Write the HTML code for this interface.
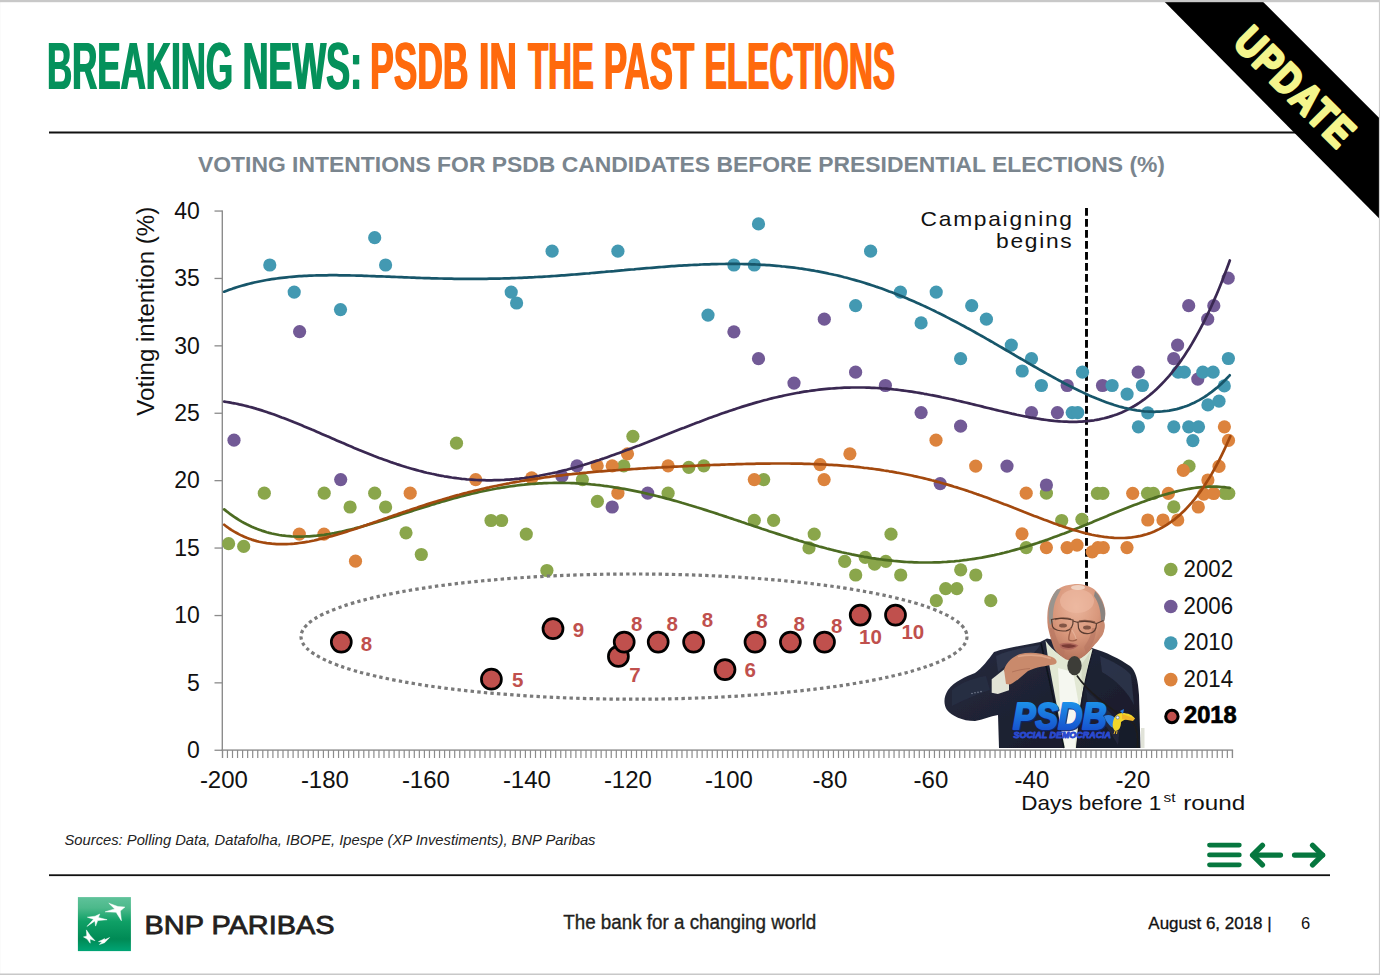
<!DOCTYPE html>
<html><head><meta charset="utf-8"><title>PSDB in the past elections</title>
<style>
html,body{margin:0;padding:0;background:#fff;}
body{width:1380px;height:975px;overflow:hidden;position:relative;font-family:"Liberation Sans",sans-serif;}
svg{position:absolute;left:0;top:0;display:block;}
</style></head><body>
<svg width="1380" height="975" viewBox="0 0 1380 975" font-family="Liberation Sans, sans-serif">
<defs>
<linearGradient id="bnpg" x1="0" y1="0" x2="0" y2="1">
<stop offset="0" stop-color="#5fc29a"/><stop offset="0.2" stop-color="#4cb98b"/><stop offset="0.45" stop-color="#0fa066"/>
<stop offset="0.78" stop-color="#008a55"/><stop offset="1" stop-color="#00a575"/></linearGradient>
<linearGradient id="psdbg" x1="0" y1="0" x2="0" y2="1">
<stop offset="0" stop-color="#1ea0f0"/><stop offset="1" stop-color="#1545c8"/></linearGradient>
<radialGradient id="skin" cx="0.5" cy="0.35" r="0.6"><stop offset="0" stop-color="#e3a98c"/><stop offset="1" stop-color="#b97a60"/></radialGradient>
<filter id="blur1"><feGaussianBlur stdDeviation="0.6"/></filter>
<filter id="blur2"><feGaussianBlur stdDeviation="1.2"/></filter>
</defs>
<rect x="0" y="0" width="1380" height="975" fill="#fff"/>

<g font-size="67" font-weight="bold"><text x="46.40" y="88.5" fill="#05915B" textLength="186.10" lengthAdjust="spacingAndGlyphs">BREAKING</text><text x="47.60" y="88.5" fill="#05915B" textLength="186.10" lengthAdjust="spacingAndGlyphs">BREAKING</text><text x="242.00" y="88.5" fill="#05915B" textLength="119.40" lengthAdjust="spacingAndGlyphs">NEWS:</text><text x="243.20" y="88.5" fill="#05915B" textLength="119.40" lengthAdjust="spacingAndGlyphs">NEWS:</text><text x="369.60" y="88.5" fill="#FF6A0D" textLength="98.10" lengthAdjust="spacingAndGlyphs">PSDB</text><text x="370.80" y="88.5" fill="#FF6A0D" textLength="98.10" lengthAdjust="spacingAndGlyphs">PSDB</text><text x="478.20" y="88.5" fill="#FF6A0D" textLength="38.20" lengthAdjust="spacingAndGlyphs">IN</text><text x="479.40" y="88.5" fill="#FF6A0D" textLength="38.20" lengthAdjust="spacingAndGlyphs">IN</text><text x="527.50" y="88.5" fill="#FF6A0D" textLength="65.80" lengthAdjust="spacingAndGlyphs">THE</text><text x="528.70" y="88.5" fill="#FF6A0D" textLength="65.80" lengthAdjust="spacingAndGlyphs">THE</text><text x="603.20" y="88.5" fill="#FF6A0D" textLength="90.30" lengthAdjust="spacingAndGlyphs">PAST</text><text x="604.40" y="88.5" fill="#FF6A0D" textLength="90.30" lengthAdjust="spacingAndGlyphs">PAST</text><text x="704.00" y="88.5" fill="#FF6A0D" textLength="190.50" lengthAdjust="spacingAndGlyphs">ELECTIONS</text><text x="705.20" y="88.5" fill="#FF6A0D" textLength="190.50" lengthAdjust="spacingAndGlyphs">ELECTIONS</text></g>
<rect x="49" y="131.5" width="1250" height="2" fill="#111"/>
<text x="198" y="172.4" font-size="21.5" font-weight="bold" fill="#7A858E" textLength="967" lengthAdjust="spacingAndGlyphs">VOTING INTENTIONS FOR PSDB CANDIDATES BEFORE PRESIDENTIAL ELECTIONS (%)</text>
<g fill="#8c8c8c">
<rect x="221.6" y="210.5" width="1.4" height="540.5"/>
<rect x="221.6" y="749.4" width="1011.5" height="1.4"/>
<rect x="214.5" y="749.6" width="8" height="1.3"/>
<rect x="214.5" y="682.2" width="8" height="1.3"/>
<rect x="214.5" y="614.9" width="8" height="1.3"/>
<rect x="214.5" y="547.4" width="8" height="1.3"/>
<rect x="214.5" y="480.0" width="8" height="1.3"/>
<rect x="214.5" y="412.6" width="8" height="1.3"/>
<rect x="214.5" y="345.2" width="8" height="1.3"/>
<rect x="214.5" y="277.8" width="8" height="1.3"/>
<rect x="214.5" y="210.4" width="8" height="1.3"/>
<rect x="221.80" y="750" width="1.2" height="8"/>
<rect x="226.85" y="750" width="1.2" height="8"/>
<rect x="231.90" y="750" width="1.2" height="8"/>
<rect x="236.95" y="750" width="1.2" height="8"/>
<rect x="242.00" y="750" width="1.2" height="8"/>
<rect x="247.05" y="750" width="1.2" height="8"/>
<rect x="252.10" y="750" width="1.2" height="8"/>
<rect x="257.15" y="750" width="1.2" height="8"/>
<rect x="262.20" y="750" width="1.2" height="8"/>
<rect x="267.25" y="750" width="1.2" height="8"/>
<rect x="272.30" y="750" width="1.2" height="8"/>
<rect x="277.35" y="750" width="1.2" height="8"/>
<rect x="282.40" y="750" width="1.2" height="8"/>
<rect x="287.45" y="750" width="1.2" height="8"/>
<rect x="292.50" y="750" width="1.2" height="8"/>
<rect x="297.55" y="750" width="1.2" height="8"/>
<rect x="302.60" y="750" width="1.2" height="8"/>
<rect x="307.65" y="750" width="1.2" height="8"/>
<rect x="312.70" y="750" width="1.2" height="8"/>
<rect x="317.75" y="750" width="1.2" height="8"/>
<rect x="322.80" y="750" width="1.2" height="8"/>
<rect x="327.85" y="750" width="1.2" height="8"/>
<rect x="332.90" y="750" width="1.2" height="8"/>
<rect x="337.95" y="750" width="1.2" height="8"/>
<rect x="343.00" y="750" width="1.2" height="8"/>
<rect x="348.05" y="750" width="1.2" height="8"/>
<rect x="353.10" y="750" width="1.2" height="8"/>
<rect x="358.15" y="750" width="1.2" height="8"/>
<rect x="363.20" y="750" width="1.2" height="8"/>
<rect x="368.25" y="750" width="1.2" height="8"/>
<rect x="373.30" y="750" width="1.2" height="8"/>
<rect x="378.35" y="750" width="1.2" height="8"/>
<rect x="383.40" y="750" width="1.2" height="8"/>
<rect x="388.45" y="750" width="1.2" height="8"/>
<rect x="393.50" y="750" width="1.2" height="8"/>
<rect x="398.55" y="750" width="1.2" height="8"/>
<rect x="403.60" y="750" width="1.2" height="8"/>
<rect x="408.65" y="750" width="1.2" height="8"/>
<rect x="413.70" y="750" width="1.2" height="8"/>
<rect x="418.75" y="750" width="1.2" height="8"/>
<rect x="423.80" y="750" width="1.2" height="8"/>
<rect x="428.85" y="750" width="1.2" height="8"/>
<rect x="433.90" y="750" width="1.2" height="8"/>
<rect x="438.95" y="750" width="1.2" height="8"/>
<rect x="444.00" y="750" width="1.2" height="8"/>
<rect x="449.05" y="750" width="1.2" height="8"/>
<rect x="454.10" y="750" width="1.2" height="8"/>
<rect x="459.15" y="750" width="1.2" height="8"/>
<rect x="464.20" y="750" width="1.2" height="8"/>
<rect x="469.25" y="750" width="1.2" height="8"/>
<rect x="474.30" y="750" width="1.2" height="8"/>
<rect x="479.35" y="750" width="1.2" height="8"/>
<rect x="484.40" y="750" width="1.2" height="8"/>
<rect x="489.45" y="750" width="1.2" height="8"/>
<rect x="494.50" y="750" width="1.2" height="8"/>
<rect x="499.55" y="750" width="1.2" height="8"/>
<rect x="504.60" y="750" width="1.2" height="8"/>
<rect x="509.65" y="750" width="1.2" height="8"/>
<rect x="514.70" y="750" width="1.2" height="8"/>
<rect x="519.75" y="750" width="1.2" height="8"/>
<rect x="524.80" y="750" width="1.2" height="8"/>
<rect x="529.85" y="750" width="1.2" height="8"/>
<rect x="534.90" y="750" width="1.2" height="8"/>
<rect x="539.95" y="750" width="1.2" height="8"/>
<rect x="545.00" y="750" width="1.2" height="8"/>
<rect x="550.05" y="750" width="1.2" height="8"/>
<rect x="555.10" y="750" width="1.2" height="8"/>
<rect x="560.15" y="750" width="1.2" height="8"/>
<rect x="565.20" y="750" width="1.2" height="8"/>
<rect x="570.25" y="750" width="1.2" height="8"/>
<rect x="575.30" y="750" width="1.2" height="8"/>
<rect x="580.35" y="750" width="1.2" height="8"/>
<rect x="585.40" y="750" width="1.2" height="8"/>
<rect x="590.45" y="750" width="1.2" height="8"/>
<rect x="595.50" y="750" width="1.2" height="8"/>
<rect x="600.55" y="750" width="1.2" height="8"/>
<rect x="605.60" y="750" width="1.2" height="8"/>
<rect x="610.65" y="750" width="1.2" height="8"/>
<rect x="615.70" y="750" width="1.2" height="8"/>
<rect x="620.75" y="750" width="1.2" height="8"/>
<rect x="625.80" y="750" width="1.2" height="8"/>
<rect x="630.85" y="750" width="1.2" height="8"/>
<rect x="635.90" y="750" width="1.2" height="8"/>
<rect x="640.95" y="750" width="1.2" height="8"/>
<rect x="646.00" y="750" width="1.2" height="8"/>
<rect x="651.05" y="750" width="1.2" height="8"/>
<rect x="656.10" y="750" width="1.2" height="8"/>
<rect x="661.15" y="750" width="1.2" height="8"/>
<rect x="666.20" y="750" width="1.2" height="8"/>
<rect x="671.25" y="750" width="1.2" height="8"/>
<rect x="676.30" y="750" width="1.2" height="8"/>
<rect x="681.35" y="750" width="1.2" height="8"/>
<rect x="686.40" y="750" width="1.2" height="8"/>
<rect x="691.45" y="750" width="1.2" height="8"/>
<rect x="696.50" y="750" width="1.2" height="8"/>
<rect x="701.55" y="750" width="1.2" height="8"/>
<rect x="706.60" y="750" width="1.2" height="8"/>
<rect x="711.65" y="750" width="1.2" height="8"/>
<rect x="716.70" y="750" width="1.2" height="8"/>
<rect x="721.75" y="750" width="1.2" height="8"/>
<rect x="726.80" y="750" width="1.2" height="8"/>
<rect x="731.85" y="750" width="1.2" height="8"/>
<rect x="736.90" y="750" width="1.2" height="8"/>
<rect x="741.95" y="750" width="1.2" height="8"/>
<rect x="747.00" y="750" width="1.2" height="8"/>
<rect x="752.05" y="750" width="1.2" height="8"/>
<rect x="757.10" y="750" width="1.2" height="8"/>
<rect x="762.15" y="750" width="1.2" height="8"/>
<rect x="767.20" y="750" width="1.2" height="8"/>
<rect x="772.25" y="750" width="1.2" height="8"/>
<rect x="777.30" y="750" width="1.2" height="8"/>
<rect x="782.35" y="750" width="1.2" height="8"/>
<rect x="787.40" y="750" width="1.2" height="8"/>
<rect x="792.45" y="750" width="1.2" height="8"/>
<rect x="797.50" y="750" width="1.2" height="8"/>
<rect x="802.55" y="750" width="1.2" height="8"/>
<rect x="807.60" y="750" width="1.2" height="8"/>
<rect x="812.65" y="750" width="1.2" height="8"/>
<rect x="817.70" y="750" width="1.2" height="8"/>
<rect x="822.75" y="750" width="1.2" height="8"/>
<rect x="827.80" y="750" width="1.2" height="8"/>
<rect x="832.85" y="750" width="1.2" height="8"/>
<rect x="837.90" y="750" width="1.2" height="8"/>
<rect x="842.95" y="750" width="1.2" height="8"/>
<rect x="848.00" y="750" width="1.2" height="8"/>
<rect x="853.05" y="750" width="1.2" height="8"/>
<rect x="858.10" y="750" width="1.2" height="8"/>
<rect x="863.15" y="750" width="1.2" height="8"/>
<rect x="868.20" y="750" width="1.2" height="8"/>
<rect x="873.25" y="750" width="1.2" height="8"/>
<rect x="878.30" y="750" width="1.2" height="8"/>
<rect x="883.35" y="750" width="1.2" height="8"/>
<rect x="888.40" y="750" width="1.2" height="8"/>
<rect x="893.45" y="750" width="1.2" height="8"/>
<rect x="898.50" y="750" width="1.2" height="8"/>
<rect x="903.55" y="750" width="1.2" height="8"/>
<rect x="908.60" y="750" width="1.2" height="8"/>
<rect x="913.65" y="750" width="1.2" height="8"/>
<rect x="918.70" y="750" width="1.2" height="8"/>
<rect x="923.75" y="750" width="1.2" height="8"/>
<rect x="928.80" y="750" width="1.2" height="8"/>
<rect x="933.85" y="750" width="1.2" height="8"/>
<rect x="938.90" y="750" width="1.2" height="8"/>
<rect x="943.95" y="750" width="1.2" height="8"/>
<rect x="949.00" y="750" width="1.2" height="8"/>
<rect x="954.05" y="750" width="1.2" height="8"/>
<rect x="959.10" y="750" width="1.2" height="8"/>
<rect x="964.15" y="750" width="1.2" height="8"/>
<rect x="969.20" y="750" width="1.2" height="8"/>
<rect x="974.25" y="750" width="1.2" height="8"/>
<rect x="979.30" y="750" width="1.2" height="8"/>
<rect x="984.35" y="750" width="1.2" height="8"/>
<rect x="989.40" y="750" width="1.2" height="8"/>
<rect x="994.45" y="750" width="1.2" height="8"/>
<rect x="999.50" y="750" width="1.2" height="8"/>
<rect x="1004.55" y="750" width="1.2" height="8"/>
<rect x="1009.60" y="750" width="1.2" height="8"/>
<rect x="1014.65" y="750" width="1.2" height="8"/>
<rect x="1019.70" y="750" width="1.2" height="8"/>
<rect x="1024.75" y="750" width="1.2" height="8"/>
<rect x="1029.80" y="750" width="1.2" height="8"/>
<rect x="1034.85" y="750" width="1.2" height="8"/>
<rect x="1039.90" y="750" width="1.2" height="8"/>
<rect x="1044.95" y="750" width="1.2" height="8"/>
<rect x="1050.00" y="750" width="1.2" height="8"/>
<rect x="1055.05" y="750" width="1.2" height="8"/>
<rect x="1060.10" y="750" width="1.2" height="8"/>
<rect x="1065.15" y="750" width="1.2" height="8"/>
<rect x="1070.20" y="750" width="1.2" height="8"/>
<rect x="1075.25" y="750" width="1.2" height="8"/>
<rect x="1080.30" y="750" width="1.2" height="8"/>
<rect x="1085.35" y="750" width="1.2" height="8"/>
<rect x="1090.40" y="750" width="1.2" height="8"/>
<rect x="1095.45" y="750" width="1.2" height="8"/>
<rect x="1100.50" y="750" width="1.2" height="8"/>
<rect x="1105.55" y="750" width="1.2" height="8"/>
<rect x="1110.60" y="750" width="1.2" height="8"/>
<rect x="1115.65" y="750" width="1.2" height="8"/>
<rect x="1120.70" y="750" width="1.2" height="8"/>
<rect x="1125.75" y="750" width="1.2" height="8"/>
<rect x="1130.80" y="750" width="1.2" height="8"/>
<rect x="1135.85" y="750" width="1.2" height="8"/>
<rect x="1140.90" y="750" width="1.2" height="8"/>
<rect x="1145.95" y="750" width="1.2" height="8"/>
<rect x="1151.00" y="750" width="1.2" height="8"/>
<rect x="1156.05" y="750" width="1.2" height="8"/>
<rect x="1161.10" y="750" width="1.2" height="8"/>
<rect x="1166.15" y="750" width="1.2" height="8"/>
<rect x="1171.20" y="750" width="1.2" height="8"/>
<rect x="1176.25" y="750" width="1.2" height="8"/>
<rect x="1181.30" y="750" width="1.2" height="8"/>
<rect x="1186.35" y="750" width="1.2" height="8"/>
<rect x="1191.40" y="750" width="1.2" height="8"/>
<rect x="1196.45" y="750" width="1.2" height="8"/>
<rect x="1201.50" y="750" width="1.2" height="8"/>
<rect x="1206.55" y="750" width="1.2" height="8"/>
<rect x="1211.60" y="750" width="1.2" height="8"/>
<rect x="1216.65" y="750" width="1.2" height="8"/>
<rect x="1221.70" y="750" width="1.2" height="8"/>
<rect x="1226.75" y="750" width="1.2" height="8"/>
<rect x="1231.80" y="750" width="1.2" height="8"/>
<rect x="222" y="750" width="1.2" height="8"/>
<rect x="1231.9" y="750" width="1.2" height="8"/>
</g>
<g font-size="23" fill="#111" text-anchor="end">
<text x="199.8" y="757.9">0</text>
<text x="199.8" y="690.5">5</text>
<text x="199.8" y="623.1">10</text>
<text x="199.8" y="555.7">15</text>
<text x="199.8" y="488.3">20</text>
<text x="199.8" y="420.9">25</text>
<text x="199.8" y="353.5">30</text>
<text x="199.8" y="286.1">35</text>
<text x="199.8" y="218.7">40</text>
</g>
<g font-size="24" fill="#111" text-anchor="middle">
<text x="223.9" y="787.6">-200</text>
<text x="324.9" y="787.6">-180</text>
<text x="425.9" y="787.6">-160</text>
<text x="526.9" y="787.6">-140</text>
<text x="627.9" y="787.6">-120</text>
<text x="728.9" y="787.6">-100</text>
<text x="829.9" y="787.6">-80</text>
<text x="930.9" y="787.6">-60</text>
<text x="1031.9" y="787.6">-40</text>
<text x="1132.9" y="787.6">-20</text>
</g>
<text x="1021.2" y="810.2" font-size="21" fill="#111" textLength="140" lengthAdjust="spacingAndGlyphs">Days before 1</text>
<text x="1163.5" y="802" font-size="13.5" fill="#111" textLength="12" lengthAdjust="spacingAndGlyphs">st</text>
<text x="1183.3" y="810.2" font-size="21" fill="#111" textLength="62" lengthAdjust="spacingAndGlyphs">round</text>
<text transform="translate(153.8,415.7) rotate(-90)" font-size="23" fill="#111" textLength="209" lengthAdjust="spacingAndGlyphs">Voting intention (%)</text>
<line x1="1086.5" y1="207.9" x2="1086.5" y2="748" stroke="#000" stroke-width="2.9" stroke-dasharray="7.8 3.2"/>
<text transform="translate(920.6,226.1) scale(1.14,1)" font-size="20" letter-spacing="1.5" fill="#111">Campaigning</text>
<text transform="translate(996,248) scale(1.14,1)" font-size="20" letter-spacing="1.5" fill="#111">begins</text>
<g fill="#8AA64B">
<circle cx="264.3" cy="493.2" r="6.6"/>
<circle cx="324.2" cy="493.2" r="6.6"/>
<circle cx="374.7" cy="493.2" r="6.6"/>
<circle cx="350.1" cy="507.0" r="6.6"/>
<circle cx="385.6" cy="507.0" r="6.6"/>
<circle cx="456.5" cy="443.2" r="6.6"/>
<circle cx="406.0" cy="532.8" r="6.6"/>
<circle cx="421.3" cy="554.5" r="6.6"/>
<circle cx="228.6" cy="543.7" r="6.6"/>
<circle cx="243.7" cy="546.4" r="6.6"/>
<circle cx="491.0" cy="520.5" r="6.6"/>
<circle cx="501.6" cy="520.5" r="6.6"/>
<circle cx="526.3" cy="534.1" r="6.6"/>
<circle cx="546.9" cy="570.5" r="6.6"/>
<circle cx="632.9" cy="436.3" r="6.6"/>
<circle cx="623.8" cy="465.8" r="6.6"/>
<circle cx="582.4" cy="479.6" r="6.6"/>
<circle cx="597.4" cy="501.3" r="6.6"/>
<circle cx="668.1" cy="493.2" r="6.6"/>
<circle cx="688.8" cy="467.3" r="6.6"/>
<circle cx="703.8" cy="465.8" r="6.6"/>
<circle cx="763.7" cy="479.6" r="6.6"/>
<circle cx="754.3" cy="520.3" r="6.6"/>
<circle cx="773.6" cy="520.3" r="6.6"/>
<circle cx="814.2" cy="534.1" r="6.6"/>
<circle cx="809.0" cy="547.9" r="6.6"/>
<circle cx="844.7" cy="561.3" r="6.6"/>
<circle cx="855.7" cy="575.0" r="6.6"/>
<circle cx="865.2" cy="557.4" r="6.6"/>
<circle cx="874.6" cy="564.2" r="6.6"/>
<circle cx="885.8" cy="561.3" r="6.6"/>
<circle cx="891.0" cy="534.2" r="6.6"/>
<circle cx="900.7" cy="575.0" r="6.6"/>
<circle cx="960.7" cy="569.8" r="6.6"/>
<circle cx="975.8" cy="575.0" r="6.6"/>
<circle cx="945.7" cy="588.7" r="6.6"/>
<circle cx="956.8" cy="588.7" r="6.6"/>
<circle cx="936.3" cy="600.7" r="6.6"/>
<circle cx="990.8" cy="600.7" r="6.6"/>
<circle cx="1026.2" cy="547.6" r="6.6"/>
<circle cx="1046.4" cy="493.2" r="6.6"/>
<circle cx="1061.7" cy="520.5" r="6.6"/>
<circle cx="1081.9" cy="519.3" r="6.6"/>
<circle cx="1097.4" cy="493.3" r="6.6"/>
<circle cx="1102.9" cy="493.3" r="6.6"/>
<circle cx="1147.5" cy="493.3" r="6.6"/>
<circle cx="1153.4" cy="493.3" r="6.6"/>
<circle cx="1173.8" cy="506.8" r="6.6"/>
<circle cx="1189.0" cy="466.2" r="6.6"/>
<circle cx="1225.1" cy="493.3" r="6.6"/>
<circle cx="1228.8" cy="493.3" r="6.6"/>
</g>
<g fill="#725A96">
<circle cx="299.6" cy="331.6" r="6.6"/>
<circle cx="234.0" cy="440.2" r="6.6"/>
<circle cx="340.7" cy="479.6" r="6.6"/>
<circle cx="561.9" cy="476.2" r="6.6"/>
<circle cx="577.0" cy="465.8" r="6.6"/>
<circle cx="612.2" cy="507.0" r="6.6"/>
<circle cx="647.7" cy="493.2" r="6.6"/>
<circle cx="733.9" cy="331.8" r="6.6"/>
<circle cx="758.5" cy="358.7" r="6.6"/>
<circle cx="794.0" cy="383.1" r="6.6"/>
<circle cx="824.3" cy="319.2" r="6.6"/>
<circle cx="855.6" cy="372.2" r="6.6"/>
<circle cx="885.4" cy="385.5" r="6.6"/>
<circle cx="921.1" cy="412.6" r="6.6"/>
<circle cx="960.6" cy="426.2" r="6.6"/>
<circle cx="1031.5" cy="412.6" r="6.6"/>
<circle cx="1057.4" cy="412.6" r="6.6"/>
<circle cx="1067.2" cy="385.5" r="6.6"/>
<circle cx="1102.5" cy="385.5" r="6.6"/>
<circle cx="1138.2" cy="372.2" r="6.6"/>
<circle cx="1173.7" cy="358.7" r="6.6"/>
<circle cx="1177.6" cy="345.1" r="6.6"/>
<circle cx="1188.7" cy="305.7" r="6.6"/>
<circle cx="1207.7" cy="319.2" r="6.6"/>
<circle cx="1213.8" cy="305.7" r="6.6"/>
<circle cx="1197.8" cy="379.1" r="6.6"/>
<circle cx="1228.2" cy="278.2" r="6.6"/>
<circle cx="1007.0" cy="466.1" r="6.6"/>
<circle cx="940.2" cy="483.6" r="6.6"/>
<circle cx="1046.4" cy="485.0" r="6.6"/>
</g>
<g fill="#4399B2">
<circle cx="269.8" cy="265.0" r="6.6"/>
<circle cx="294.2" cy="292.1" r="6.6"/>
<circle cx="340.5" cy="309.6" r="6.6"/>
<circle cx="374.7" cy="237.7" r="6.6"/>
<circle cx="385.6" cy="265.0" r="6.6"/>
<circle cx="511.2" cy="292.1" r="6.6"/>
<circle cx="516.6" cy="303.0" r="6.6"/>
<circle cx="552.1" cy="251.2" r="6.6"/>
<circle cx="617.9" cy="251.2" r="6.6"/>
<circle cx="758.5" cy="223.9" r="6.6"/>
<circle cx="733.9" cy="265.0" r="6.6"/>
<circle cx="754.3" cy="265.0" r="6.6"/>
<circle cx="870.6" cy="251.2" r="6.6"/>
<circle cx="708.0" cy="315.1" r="6.6"/>
<circle cx="855.6" cy="305.7" r="6.6"/>
<circle cx="900.4" cy="292.1" r="6.6"/>
<circle cx="936.2" cy="292.1" r="6.6"/>
<circle cx="921.1" cy="322.9" r="6.6"/>
<circle cx="971.7" cy="305.7" r="6.6"/>
<circle cx="986.4" cy="319.2" r="6.6"/>
<circle cx="960.6" cy="358.7" r="6.6"/>
<circle cx="1011.3" cy="345.1" r="6.6"/>
<circle cx="1031.5" cy="358.7" r="6.6"/>
<circle cx="1022.2" cy="371.0" r="6.6"/>
<circle cx="1041.4" cy="385.5" r="6.6"/>
<circle cx="1082.5" cy="372.2" r="6.6"/>
<circle cx="1072.2" cy="412.6" r="6.6"/>
<circle cx="1077.8" cy="412.6" r="6.6"/>
<circle cx="1112.1" cy="385.5" r="6.6"/>
<circle cx="1127.1" cy="394.1" r="6.6"/>
<circle cx="1142.4" cy="385.5" r="6.6"/>
<circle cx="1147.8" cy="412.9" r="6.6"/>
<circle cx="1138.4" cy="426.8" r="6.6"/>
<circle cx="1173.8" cy="426.8" r="6.6"/>
<circle cx="1188.7" cy="426.8" r="6.6"/>
<circle cx="1198.5" cy="426.8" r="6.6"/>
<circle cx="1192.9" cy="440.6" r="6.6"/>
<circle cx="1178.1" cy="372.2" r="6.6"/>
<circle cx="1184.3" cy="372.2" r="6.6"/>
<circle cx="1202.8" cy="372.2" r="6.6"/>
<circle cx="1213.1" cy="372.2" r="6.6"/>
<circle cx="1207.9" cy="404.9" r="6.6"/>
<circle cx="1219.0" cy="401.2" r="6.6"/>
<circle cx="1228.4" cy="358.5" r="6.6"/>
<circle cx="1224.3" cy="385.9" r="6.6"/>
</g>
<g fill="#DC833D">
<circle cx="299.3" cy="534.1" r="6.6"/>
<circle cx="324.0" cy="534.1" r="6.6"/>
<circle cx="355.5" cy="561.2" r="6.6"/>
<circle cx="410.2" cy="493.2" r="6.6"/>
<circle cx="475.7" cy="479.6" r="6.6"/>
<circle cx="531.7" cy="477.9" r="6.6"/>
<circle cx="627.5" cy="453.8" r="6.6"/>
<circle cx="597.2" cy="465.8" r="6.6"/>
<circle cx="612.2" cy="465.8" r="6.6"/>
<circle cx="668.1" cy="465.8" r="6.6"/>
<circle cx="617.9" cy="493.2" r="6.6"/>
<circle cx="754.3" cy="479.6" r="6.6"/>
<circle cx="820.1" cy="464.6" r="6.6"/>
<circle cx="824.1" cy="479.6" r="6.6"/>
<circle cx="849.9" cy="453.8" r="6.6"/>
<circle cx="936.0" cy="440.2" r="6.6"/>
<circle cx="975.7" cy="466.1" r="6.6"/>
<circle cx="1026.2" cy="493.2" r="6.6"/>
<circle cx="1022.0" cy="533.8" r="6.6"/>
<circle cx="1046.4" cy="547.6" r="6.6"/>
<circle cx="1067.1" cy="547.6" r="6.6"/>
<circle cx="1077.0" cy="545.2" r="6.6"/>
<circle cx="1092.2" cy="551.8" r="6.6"/>
<circle cx="1097.9" cy="547.6" r="6.6"/>
<circle cx="1103.3" cy="547.6" r="6.6"/>
<circle cx="1127.0" cy="547.6" r="6.6"/>
<circle cx="1132.7" cy="493.3" r="6.6"/>
<circle cx="1147.8" cy="520.0" r="6.6"/>
<circle cx="1163.0" cy="520.0" r="6.6"/>
<circle cx="1177.7" cy="520.0" r="6.6"/>
<circle cx="1168.4" cy="493.3" r="6.6"/>
<circle cx="1183.3" cy="470.4" r="6.6"/>
<circle cx="1198.3" cy="507.0" r="6.6"/>
<circle cx="1203.8" cy="494.1" r="6.6"/>
<circle cx="1213.7" cy="493.5" r="6.6"/>
<circle cx="1207.9" cy="480.0" r="6.6"/>
<circle cx="1219.0" cy="466.4" r="6.6"/>
<circle cx="1224.4" cy="426.8" r="6.6"/>
<circle cx="1228.5" cy="440.4" r="6.6"/>
</g>
<path d="M224.2,509.4 L226.7,511.4 L229.2,513.3 L231.7,515.1 L234.2,516.9 L236.7,518.5 L239.2,520.1 L241.7,521.6 L244.2,523.0 L246.7,524.3 L249.2,525.5 L251.7,526.7 L254.2,527.8 L256.7,528.8 L259.2,529.7 L261.7,530.6 L264.2,531.4 L266.7,532.2 L269.2,532.9 L271.7,533.5 L274.2,534.0 L276.7,534.5 L279.2,535.0 L281.7,535.4 L284.2,535.7 L286.7,536.0 L289.2,536.2 L291.7,536.4 L294.2,536.5 L296.7,536.6 L299.2,536.6 L301.7,536.6 L304.2,536.5 L306.7,536.4 L309.2,536.3 L311.7,536.1 L314.2,535.9 L316.7,535.7 L319.2,535.4 L321.7,535.1 L324.2,534.8 L326.7,534.4 L329.2,534.0 L331.7,533.5 L334.2,533.1 L336.7,532.6 L339.2,532.1 L341.7,531.6 L344.2,531.0 L346.7,530.4 L349.2,529.8 L351.7,529.2 L354.2,528.6 L356.7,527.9 L359.2,527.3 L361.7,526.6 L364.2,525.9 L366.7,525.2 L369.2,524.4 L371.7,523.7 L374.2,523.0 L376.7,522.2 L379.2,521.4 L381.7,520.7 L384.2,519.9 L386.7,519.1 L389.2,518.3 L391.7,517.5 L394.2,516.7 L396.7,515.9 L399.2,515.1 L401.7,514.3 L404.2,513.5 L406.7,512.7 L409.2,511.9 L411.7,511.1 L414.2,510.3 L416.7,509.5 L419.2,508.7 L421.7,507.9 L424.2,507.1 L426.7,506.4 L429.2,505.6 L431.7,504.8 L434.2,504.1 L436.7,503.3 L439.2,502.6 L441.7,501.8 L444.2,501.1 L446.7,500.4 L449.2,499.7 L451.7,499.0 L454.2,498.3 L456.7,497.6 L459.2,496.9 L461.7,496.3 L464.2,495.6 L466.7,495.0 L469.2,494.4 L471.7,493.8 L474.2,493.2 L476.7,492.6 L479.2,492.0 L481.7,491.5 L484.2,491.0 L486.7,490.4 L489.2,489.9 L491.7,489.5 L494.2,489.0 L496.7,488.5 L499.2,488.1 L501.7,487.7 L504.2,487.3 L506.7,486.9 L509.2,486.5 L511.7,486.2 L514.2,485.8 L516.7,485.5 L519.2,485.2 L521.7,484.9 L524.2,484.7 L526.7,484.4 L529.2,484.2 L531.7,484.0 L534.2,483.8 L536.7,483.6 L539.2,483.4 L541.7,483.3 L544.2,483.2 L546.7,483.1 L549.2,483.0 L551.7,483.0 L554.2,482.9 L556.7,482.9 L559.2,482.9 L561.7,482.9 L564.2,482.9 L566.7,483.0 L569.2,483.0 L571.7,483.1 L574.2,483.2 L576.7,483.3 L579.2,483.5 L581.7,483.6 L584.2,483.8 L586.7,484.0 L589.2,484.2 L591.7,484.5 L594.2,484.7 L596.7,485.0 L599.2,485.2 L601.7,485.5 L604.2,485.9 L606.7,486.2 L609.2,486.5 L611.7,486.9 L614.2,487.3 L616.7,487.7 L619.2,488.1 L621.7,488.5 L624.2,488.9 L626.7,489.4 L629.2,489.9 L631.7,490.4 L634.2,490.9 L636.7,491.4 L639.2,491.9 L641.7,492.4 L644.2,493.0 L646.7,493.6 L649.2,494.2 L651.7,494.7 L654.2,495.4 L656.7,496.0 L659.2,496.6 L661.7,497.2 L664.2,497.9 L666.7,498.6 L669.2,499.2 L671.7,499.9 L674.2,500.6 L676.7,501.3 L679.2,502.0 L681.7,502.8 L684.2,503.5 L686.7,504.2 L689.2,505.0 L691.7,505.7 L694.2,506.5 L696.7,507.3 L699.2,508.0 L701.7,508.8 L704.2,509.6 L706.7,510.4 L709.2,511.2 L711.7,512.0 L714.2,512.8 L716.7,513.6 L719.2,514.5 L721.7,515.3 L724.2,516.1 L726.7,516.9 L729.2,517.8 L731.7,518.6 L734.2,519.5 L736.7,520.3 L739.2,521.1 L741.7,522.0 L744.2,522.8 L746.7,523.7 L749.2,524.5 L751.7,525.3 L754.2,526.2 L756.7,527.0 L759.2,527.8 L761.7,528.7 L764.2,529.5 L766.7,530.3 L769.2,531.2 L771.7,532.0 L774.2,532.8 L776.7,533.6 L779.2,534.4 L781.7,535.2 L784.2,536.0 L786.7,536.8 L789.2,537.6 L791.7,538.4 L794.2,539.2 L796.7,539.9 L799.2,540.7 L801.7,541.4 L804.2,542.2 L806.7,542.9 L809.2,543.6 L811.7,544.4 L814.2,545.1 L816.7,545.8 L819.2,546.5 L821.7,547.1 L824.2,547.8 L826.7,548.5 L829.2,549.1 L831.7,549.7 L834.2,550.4 L836.7,551.0 L839.2,551.6 L841.7,552.2 L844.2,552.7 L846.7,553.3 L849.2,553.8 L851.7,554.4 L854.2,554.9 L856.7,555.4 L859.2,555.9 L861.7,556.3 L864.2,556.8 L866.7,557.2 L869.2,557.6 L871.7,558.1 L874.2,558.4 L876.7,558.8 L879.2,559.2 L881.7,559.5 L884.2,559.8 L886.7,560.1 L889.2,560.4 L891.7,560.7 L894.2,561.0 L896.7,561.2 L899.2,561.4 L901.7,561.6 L904.2,561.8 L906.7,562.0 L909.2,562.1 L911.7,562.2 L914.2,562.3 L916.7,562.4 L919.2,562.5 L921.7,562.5 L924.2,562.5 L926.7,562.5 L929.2,562.5 L931.7,562.5 L934.2,562.4 L936.7,562.4 L939.2,562.3 L941.7,562.2 L944.2,562.0 L946.7,561.9 L949.2,561.7 L951.7,561.5 L954.2,561.3 L956.7,561.0 L959.2,560.8 L961.7,560.5 L964.2,560.2 L966.7,559.9 L969.2,559.5 L971.7,559.2 L974.2,558.8 L976.7,558.4 L979.2,558.0 L981.7,557.6 L984.2,557.1 L986.7,556.6 L989.2,556.1 L991.7,555.6 L994.2,555.1 L996.7,554.5 L999.2,554.0 L1001.7,553.4 L1004.2,552.8 L1006.7,552.1 L1009.2,551.5 L1011.7,550.8 L1014.2,550.1 L1016.7,549.4 L1019.2,548.7 L1021.7,548.0 L1024.2,547.3 L1026.7,546.5 L1029.2,545.7 L1031.7,544.9 L1034.2,544.1 L1036.7,543.3 L1039.2,542.4 L1041.7,541.6 L1044.2,540.7 L1046.7,539.9 L1049.2,539.0 L1051.7,538.1 L1054.2,537.1 L1056.7,536.2 L1059.2,535.3 L1061.7,534.3 L1064.2,533.4 L1066.7,532.4 L1069.2,531.4 L1071.7,530.5 L1074.2,529.5 L1076.7,528.5 L1079.2,527.5 L1081.7,526.4 L1084.2,525.4 L1086.7,524.4 L1089.2,523.4 L1091.7,522.4 L1094.2,521.3 L1096.7,520.3 L1099.2,519.3 L1101.7,518.2 L1104.2,517.2 L1106.7,516.2 L1109.2,515.1 L1111.7,514.1 L1114.2,513.1 L1116.7,512.1 L1119.2,511.1 L1121.7,510.1 L1124.2,509.1 L1126.7,508.1 L1129.2,507.1 L1131.7,506.1 L1134.2,505.1 L1136.7,504.2 L1139.2,503.3 L1141.7,502.3 L1144.2,501.4 L1146.7,500.5 L1149.2,499.6 L1151.7,498.8 L1154.2,497.9 L1156.7,497.1 L1159.2,496.3 L1161.7,495.5 L1164.2,494.8 L1166.7,494.1 L1169.2,493.4 L1171.7,492.7 L1174.2,492.0 L1176.7,491.4 L1179.2,490.8 L1181.7,490.3 L1184.2,489.8 L1186.7,489.3 L1189.2,488.8 L1191.7,488.4 L1194.2,488.0 L1196.7,487.7 L1199.2,487.4 L1201.7,487.2 L1204.2,487.0 L1206.7,486.8 L1209.2,486.7 L1211.7,486.7 L1214.2,486.7 L1216.7,486.7 L1219.2,486.8 L1221.7,487.0 L1224.2,487.2 L1226.7,487.5 L1229.2,487.8 L1229.7,487.9" fill="none" stroke="#4C6B22" stroke-width="2.7" stroke-linejoin="round" stroke-linecap="round"/>
<path d="M224.2,401.7 L226.7,402.0 L229.2,402.4 L231.7,402.9 L234.2,403.3 L236.7,403.8 L239.2,404.4 L241.7,404.9 L244.2,405.5 L246.7,406.1 L249.2,406.8 L251.7,407.4 L254.2,408.1 L256.7,408.9 L259.2,409.6 L261.7,410.4 L264.2,411.2 L266.7,412.0 L269.2,412.9 L271.7,413.7 L274.2,414.6 L276.7,415.5 L279.2,416.4 L281.7,417.4 L284.2,418.3 L286.7,419.3 L289.2,420.3 L291.7,421.2 L294.2,422.3 L296.7,423.3 L299.2,424.3 L301.7,425.3 L304.2,426.4 L306.7,427.4 L309.2,428.5 L311.7,429.6 L314.2,430.6 L316.7,431.7 L319.2,432.8 L321.7,433.9 L324.2,435.0 L326.7,436.1 L329.2,437.1 L331.7,438.2 L334.2,439.3 L336.7,440.4 L339.2,441.5 L341.7,442.6 L344.2,443.6 L346.7,444.7 L349.2,445.8 L351.7,446.8 L354.2,447.9 L356.7,448.9 L359.2,450.0 L361.7,451.0 L364.2,452.0 L366.7,453.0 L369.2,454.0 L371.7,455.0 L374.2,456.0 L376.7,456.9 L379.2,457.9 L381.7,458.8 L384.2,459.7 L386.7,460.6 L389.2,461.5 L391.7,462.4 L394.2,463.2 L396.7,464.1 L399.2,464.9 L401.7,465.7 L404.2,466.5 L406.7,467.3 L409.2,468.0 L411.7,468.7 L414.2,469.4 L416.7,470.1 L419.2,470.8 L421.7,471.4 L424.2,472.1 L426.7,472.7 L429.2,473.2 L431.7,473.8 L434.2,474.3 L436.7,474.9 L439.2,475.4 L441.7,475.8 L444.2,476.3 L446.7,476.7 L449.2,477.1 L451.7,477.5 L454.2,477.8 L456.7,478.2 L459.2,478.5 L461.7,478.8 L464.2,479.0 L466.7,479.3 L469.2,479.5 L471.7,479.6 L474.2,479.8 L476.7,480.0 L479.2,480.1 L481.7,480.2 L484.2,480.2 L486.7,480.3 L489.2,480.3 L491.7,480.3 L494.2,480.2 L496.7,480.2 L499.2,480.1 L501.7,480.0 L504.2,479.9 L506.7,479.7 L509.2,479.6 L511.7,479.4 L514.2,479.2 L516.7,478.9 L519.2,478.7 L521.7,478.4 L524.2,478.1 L526.7,477.7 L529.2,477.4 L531.7,477.0 L534.2,476.6 L536.7,476.2 L539.2,475.8 L541.7,475.3 L544.2,474.8 L546.7,474.3 L549.2,473.8 L551.7,473.3 L554.2,472.7 L556.7,472.2 L559.2,471.6 L561.7,471.0 L564.2,470.3 L566.7,469.7 L569.2,469.0 L571.7,468.4 L574.2,467.7 L576.7,467.0 L579.2,466.2 L581.7,465.5 L584.2,464.8 L586.7,464.0 L589.2,463.2 L591.7,462.4 L594.2,461.6 L596.7,460.8 L599.2,460.0 L601.7,459.1 L604.2,458.3 L606.7,457.4 L609.2,456.5 L611.7,455.6 L614.2,454.7 L616.7,453.8 L619.2,452.9 L621.7,452.0 L624.2,451.1 L626.7,450.1 L629.2,449.2 L631.7,448.3 L634.2,447.3 L636.7,446.3 L639.2,445.4 L641.7,444.4 L644.2,443.4 L646.7,442.5 L649.2,441.5 L651.7,440.5 L654.2,439.5 L656.7,438.5 L659.2,437.5 L661.7,436.5 L664.2,435.5 L666.7,434.6 L669.2,433.6 L671.7,432.6 L674.2,431.6 L676.7,430.6 L679.2,429.6 L681.7,428.6 L684.2,427.7 L686.7,426.7 L689.2,425.7 L691.7,424.7 L694.2,423.8 L696.7,422.8 L699.2,421.9 L701.7,420.9 L704.2,420.0 L706.7,419.1 L709.2,418.1 L711.7,417.2 L714.2,416.3 L716.7,415.4 L719.2,414.5 L721.7,413.6 L724.2,412.7 L726.7,411.9 L729.2,411.0 L731.7,410.2 L734.2,409.4 L736.7,408.5 L739.2,407.7 L741.7,406.9 L744.2,406.1 L746.7,405.4 L749.2,404.6 L751.7,403.9 L754.2,403.1 L756.7,402.4 L759.2,401.7 L761.7,401.0 L764.2,400.3 L766.7,399.7 L769.2,399.0 L771.7,398.4 L774.2,397.8 L776.7,397.2 L779.2,396.6 L781.7,396.1 L784.2,395.5 L786.7,395.0 L789.2,394.5 L791.7,394.0 L794.2,393.5 L796.7,393.0 L799.2,392.6 L801.7,392.1 L804.2,391.7 L806.7,391.3 L809.2,391.0 L811.7,390.6 L814.2,390.3 L816.7,390.0 L819.2,389.7 L821.7,389.4 L824.2,389.1 L826.7,388.9 L829.2,388.7 L831.7,388.5 L834.2,388.3 L836.7,388.1 L839.2,388.0 L841.7,387.8 L844.2,387.7 L846.7,387.6 L849.2,387.6 L851.7,387.5 L854.2,387.5 L856.7,387.5 L859.2,387.5 L861.7,387.5 L864.2,387.5 L866.7,387.6 L869.2,387.7 L871.7,387.8 L874.2,387.9 L876.7,388.0 L879.2,388.2 L881.7,388.4 L884.2,388.5 L886.7,388.7 L889.2,389.0 L891.7,389.2 L894.2,389.5 L896.7,389.7 L899.2,390.0 L901.7,390.3 L904.2,390.7 L906.7,391.0 L909.2,391.3 L911.7,391.7 L914.2,392.1 L916.7,392.5 L919.2,392.9 L921.7,393.3 L924.2,393.8 L926.7,394.2 L929.2,394.7 L931.7,395.2 L934.2,395.6 L936.7,396.1 L939.2,396.6 L941.7,397.2 L944.2,397.7 L946.7,398.2 L949.2,398.8 L951.7,399.3 L954.2,399.9 L956.7,400.5 L959.2,401.0 L961.7,401.6 L964.2,402.2 L966.7,402.8 L969.2,403.4 L971.7,404.0 L974.2,404.6 L976.7,405.2 L979.2,405.8 L981.7,406.4 L984.2,407.1 L986.7,407.7 L989.2,408.3 L991.7,408.9 L994.2,409.5 L996.7,410.1 L999.2,410.7 L1001.7,411.3 L1004.2,411.9 L1006.7,412.4 L1009.2,413.0 L1011.7,413.6 L1014.2,414.1 L1016.7,414.7 L1019.2,415.2 L1021.7,415.7 L1024.2,416.2 L1026.7,416.7 L1029.2,417.2 L1031.7,417.7 L1034.2,418.1 L1036.7,418.5 L1039.2,418.9 L1041.7,419.3 L1044.2,419.7 L1046.7,420.0 L1049.2,420.3 L1051.7,420.6 L1054.2,420.9 L1056.7,421.1 L1059.2,421.3 L1061.7,421.5 L1064.2,421.6 L1066.7,421.7 L1069.2,421.8 L1071.7,421.8 L1074.2,421.8 L1076.7,421.8 L1079.2,421.7 L1081.7,421.6 L1084.2,421.4 L1086.7,421.2 L1089.2,420.9 L1091.7,420.6 L1094.2,420.3 L1096.7,419.8 L1099.2,419.4 L1101.7,418.8 L1104.2,418.3 L1106.7,417.6 L1109.2,416.9 L1111.7,416.1 L1114.2,415.3 L1116.7,414.4 L1119.2,413.4 L1121.7,412.4 L1124.2,411.3 L1126.7,410.1 L1129.2,408.8 L1131.7,407.4 L1134.2,406.0 L1136.7,404.5 L1139.2,402.9 L1141.7,401.2 L1144.2,399.4 L1146.7,397.5 L1149.2,395.5 L1151.7,393.4 L1154.2,391.2 L1156.7,388.9 L1159.2,386.5 L1161.7,384.0 L1164.2,381.4 L1166.7,378.6 L1169.2,375.8 L1171.7,372.8 L1174.2,369.7 L1176.7,366.4 L1179.2,363.1 L1181.7,359.6 L1184.2,355.9 L1186.7,352.1 L1189.2,348.2 L1191.7,344.1 L1194.2,339.8 L1196.7,335.4 L1199.2,330.9 L1201.7,326.2 L1204.2,321.3 L1206.7,316.2 L1209.2,311.0 L1211.7,305.5 L1214.2,299.9 L1216.7,294.2 L1219.2,288.2 L1221.7,282.0 L1224.2,275.6 L1226.7,269.0 L1229.2,262.2 L1229.8,260.5" fill="none" stroke="#3A2852" stroke-width="2.7" stroke-linejoin="round" stroke-linecap="round"/>
<path d="M224.2,291.7 L226.7,290.8 L229.2,289.8 L231.7,289.0 L234.2,288.1 L236.7,287.3 L239.2,286.5 L241.7,285.8 L244.2,285.1 L246.7,284.4 L249.2,283.7 L251.7,283.1 L254.2,282.5 L256.7,282.0 L259.2,281.5 L261.7,281.0 L264.2,280.5 L266.7,280.0 L269.2,279.6 L271.7,279.2 L274.2,278.8 L276.7,278.5 L279.2,278.2 L281.7,277.9 L284.2,277.6 L286.7,277.3 L289.2,277.0 L291.7,276.8 L294.2,276.6 L296.7,276.4 L299.2,276.2 L301.7,276.1 L304.2,275.9 L306.7,275.8 L309.2,275.7 L311.7,275.6 L314.2,275.5 L316.7,275.4 L319.2,275.4 L321.7,275.3 L324.2,275.3 L326.7,275.3 L329.2,275.2 L331.7,275.2 L334.2,275.2 L336.7,275.2 L339.2,275.3 L341.7,275.3 L344.2,275.3 L346.7,275.4 L349.2,275.4 L351.7,275.5 L354.2,275.5 L356.7,275.6 L359.2,275.7 L361.7,275.7 L364.2,275.8 L366.7,275.9 L369.2,276.0 L371.7,276.1 L374.2,276.2 L376.7,276.3 L379.2,276.4 L381.7,276.4 L384.2,276.5 L386.7,276.6 L389.2,276.7 L391.7,276.8 L394.2,276.9 L396.7,277.0 L399.2,277.1 L401.7,277.2 L404.2,277.3 L406.7,277.4 L409.2,277.5 L411.7,277.6 L414.2,277.7 L416.7,277.8 L419.2,277.9 L421.7,278.0 L424.2,278.1 L426.7,278.1 L429.2,278.2 L431.7,278.3 L434.2,278.4 L436.7,278.4 L439.2,278.5 L441.7,278.5 L444.2,278.6 L446.7,278.6 L449.2,278.7 L451.7,278.7 L454.2,278.8 L456.7,278.8 L459.2,278.8 L461.7,278.8 L464.2,278.9 L466.7,278.9 L469.2,278.9 L471.7,278.9 L474.2,278.9 L476.7,278.9 L479.2,278.9 L481.7,278.8 L484.2,278.8 L486.7,278.8 L489.2,278.7 L491.7,278.7 L494.2,278.7 L496.7,278.6 L499.2,278.6 L501.7,278.5 L504.2,278.4 L506.7,278.3 L509.2,278.3 L511.7,278.2 L514.2,278.1 L516.7,278.0 L519.2,277.9 L521.7,277.8 L524.2,277.7 L526.7,277.6 L529.2,277.4 L531.7,277.3 L534.2,277.2 L536.7,277.0 L539.2,276.9 L541.7,276.8 L544.2,276.6 L546.7,276.5 L549.2,276.3 L551.7,276.1 L554.2,276.0 L556.7,275.8 L559.2,275.6 L561.7,275.4 L564.2,275.3 L566.7,275.1 L569.2,274.9 L571.7,274.7 L574.2,274.5 L576.7,274.3 L579.2,274.1 L581.7,273.9 L584.2,273.7 L586.7,273.5 L589.2,273.3 L591.7,273.0 L594.2,272.8 L596.7,272.6 L599.2,272.4 L601.7,272.2 L604.2,272.0 L606.7,271.7 L609.2,271.5 L611.7,271.3 L614.2,271.1 L616.7,270.8 L619.2,270.6 L621.7,270.4 L624.2,270.2 L626.7,269.9 L629.2,269.7 L631.7,269.5 L634.2,269.3 L636.7,269.0 L639.2,268.8 L641.7,268.6 L644.2,268.4 L646.7,268.2 L649.2,268.0 L651.7,267.8 L654.2,267.6 L656.7,267.4 L659.2,267.2 L661.7,267.0 L664.2,266.8 L666.7,266.6 L669.2,266.4 L671.7,266.2 L674.2,266.1 L676.7,265.9 L679.2,265.7 L681.7,265.6 L684.2,265.4 L686.7,265.3 L689.2,265.1 L691.7,265.0 L694.2,264.9 L696.7,264.8 L699.2,264.7 L701.7,264.5 L704.2,264.4 L706.7,264.4 L709.2,264.3 L711.7,264.2 L714.2,264.1 L716.7,264.1 L719.2,264.0 L721.7,264.0 L724.2,264.0 L726.7,263.9 L729.2,263.9 L731.7,263.9 L734.2,263.9 L736.7,263.9 L739.2,264.0 L741.7,264.0 L744.2,264.1 L746.7,264.1 L749.2,264.2 L751.7,264.3 L754.2,264.4 L756.7,264.5 L759.2,264.6 L761.7,264.8 L764.2,264.9 L766.7,265.1 L769.2,265.2 L771.7,265.4 L774.2,265.6 L776.7,265.8 L779.2,266.0 L781.7,266.3 L784.2,266.5 L786.7,266.8 L789.2,267.1 L791.7,267.4 L794.2,267.7 L796.7,268.0 L799.2,268.4 L801.7,268.7 L804.2,269.1 L806.7,269.5 L809.2,269.9 L811.7,270.3 L814.2,270.7 L816.7,271.2 L819.2,271.6 L821.7,272.1 L824.2,272.6 L826.7,273.1 L829.2,273.7 L831.7,274.2 L834.2,274.8 L836.7,275.3 L839.2,275.9 L841.7,276.5 L844.2,277.2 L846.7,277.8 L849.2,278.5 L851.7,279.2 L854.2,279.9 L856.7,280.6 L859.2,281.3 L861.7,282.0 L864.2,282.8 L866.7,283.6 L869.2,284.4 L871.7,285.2 L874.2,286.0 L876.7,286.9 L879.2,287.7 L881.7,288.6 L884.2,289.5 L886.7,290.4 L889.2,291.4 L891.7,292.3 L894.2,293.3 L896.7,294.3 L899.2,295.3 L901.7,296.3 L904.2,297.3 L906.7,298.3 L909.2,299.4 L911.7,300.5 L914.2,301.6 L916.7,302.7 L919.2,303.8 L921.7,304.9 L924.2,306.1 L926.7,307.2 L929.2,308.4 L931.7,309.6 L934.2,310.8 L936.7,312.1 L939.2,313.3 L941.7,314.5 L944.2,315.8 L946.7,317.1 L949.2,318.4 L951.7,319.7 L954.2,321.0 L956.7,322.3 L959.2,323.6 L961.7,325.0 L964.2,326.3 L966.7,327.7 L969.2,329.0 L971.7,330.4 L974.2,331.8 L976.7,333.2 L979.2,334.6 L981.7,336.0 L984.2,337.4 L986.7,338.9 L989.2,340.3 L991.7,341.7 L994.2,343.2 L996.7,344.6 L999.2,346.1 L1001.7,347.5 L1004.2,349.0 L1006.7,350.5 L1009.2,351.9 L1011.7,353.4 L1014.2,354.8 L1016.7,356.3 L1019.2,357.8 L1021.7,359.2 L1024.2,360.7 L1026.7,362.2 L1029.2,363.6 L1031.7,365.1 L1034.2,366.5 L1036.7,367.9 L1039.2,369.4 L1041.7,370.8 L1044.2,372.2 L1046.7,373.6 L1049.2,375.0 L1051.7,376.4 L1054.2,377.8 L1056.7,379.1 L1059.2,380.5 L1061.7,381.8 L1064.2,383.2 L1066.7,384.5 L1069.2,385.8 L1071.7,387.0 L1074.2,388.3 L1076.7,389.5 L1079.2,390.7 L1081.7,391.9 L1084.2,393.1 L1086.7,394.2 L1089.2,395.4 L1091.7,396.5 L1094.2,397.5 L1096.7,398.6 L1099.2,399.6 L1101.7,400.6 L1104.2,401.5 L1106.7,402.4 L1109.2,403.3 L1111.7,404.1 L1114.2,405.0 L1116.7,405.7 L1119.2,406.5 L1121.7,407.1 L1124.2,407.8 L1126.7,408.4 L1129.2,409.0 L1131.7,409.5 L1134.2,409.9 L1136.7,410.4 L1139.2,410.7 L1141.7,411.0 L1144.2,411.3 L1146.7,411.5 L1149.2,411.6 L1151.7,411.7 L1154.2,411.8 L1156.7,411.7 L1159.2,411.6 L1161.7,411.5 L1164.2,411.2 L1166.7,411.0 L1169.2,410.6 L1171.7,410.1 L1174.2,409.6 L1176.7,409.1 L1179.2,408.4 L1181.7,407.6 L1184.2,406.8 L1186.7,405.9 L1189.2,404.9 L1191.7,403.8 L1194.2,402.7 L1196.7,401.4 L1199.2,400.1 L1201.7,398.6 L1204.2,397.1 L1206.7,395.5 L1209.2,393.7 L1211.7,391.9 L1214.2,389.9 L1216.7,387.9 L1219.2,385.7 L1221.7,383.4 L1224.2,381.0 L1226.7,378.5 L1229.2,375.9 L1229.7,375.3" fill="none" stroke="#17566A" stroke-width="2.7" stroke-linejoin="round" stroke-linecap="round"/>
<path d="M224.2,524.8 L226.7,526.7 L229.2,528.5 L231.7,530.1 L234.2,531.6 L236.7,533.0 L239.2,534.4 L241.7,535.6 L244.2,536.7 L246.7,537.8 L249.2,538.7 L251.7,539.6 L254.2,540.4 L256.7,541.1 L259.2,541.7 L261.7,542.2 L264.2,542.7 L266.7,543.1 L269.2,543.4 L271.7,543.7 L274.2,543.9 L276.7,544.1 L279.2,544.2 L281.7,544.2 L284.2,544.2 L286.7,544.1 L289.2,544.0 L291.7,543.8 L294.2,543.6 L296.7,543.3 L299.2,543.0 L301.7,542.7 L304.2,542.3 L306.7,541.9 L309.2,541.5 L311.7,541.0 L314.2,540.5 L316.7,539.9 L319.2,539.3 L321.7,538.7 L324.2,538.1 L326.7,537.5 L329.2,536.8 L331.7,536.1 L334.2,535.4 L336.7,534.7 L339.2,533.9 L341.7,533.2 L344.2,532.4 L346.7,531.6 L349.2,530.8 L351.7,530.0 L354.2,529.2 L356.7,528.4 L359.2,527.5 L361.7,526.7 L364.2,525.8 L366.7,524.9 L369.2,524.1 L371.7,523.2 L374.2,522.3 L376.7,521.5 L379.2,520.6 L381.7,519.7 L384.2,518.8 L386.7,518.0 L389.2,517.1 L391.7,516.2 L394.2,515.3 L396.7,514.5 L399.2,513.6 L401.7,512.7 L404.2,511.9 L406.7,511.0 L409.2,510.2 L411.7,509.3 L414.2,508.5 L416.7,507.7 L419.2,506.8 L421.7,506.0 L424.2,505.2 L426.7,504.4 L429.2,503.6 L431.7,502.8 L434.2,502.0 L436.7,501.3 L439.2,500.5 L441.7,499.8 L444.2,499.0 L446.7,498.3 L449.2,497.6 L451.7,496.8 L454.2,496.1 L456.7,495.4 L459.2,494.8 L461.7,494.1 L464.2,493.4 L466.7,492.8 L469.2,492.1 L471.7,491.5 L474.2,490.9 L476.7,490.3 L479.2,489.7 L481.7,489.1 L484.2,488.5 L486.7,487.9 L489.2,487.4 L491.7,486.8 L494.2,486.3 L496.7,485.8 L499.2,485.2 L501.7,484.7 L504.2,484.2 L506.7,483.7 L509.2,483.3 L511.7,482.8 L514.2,482.3 L516.7,481.9 L519.2,481.5 L521.7,481.0 L524.2,480.6 L526.7,480.2 L529.2,479.8 L531.7,479.4 L534.2,479.0 L536.7,478.6 L539.2,478.3 L541.7,477.9 L544.2,477.5 L546.7,477.2 L549.2,476.9 L551.7,476.5 L554.2,476.2 L556.7,475.9 L559.2,475.6 L561.7,475.3 L564.2,475.0 L566.7,474.7 L569.2,474.4 L571.7,474.2 L574.2,473.9 L576.7,473.6 L579.2,473.4 L581.7,473.1 L584.2,472.9 L586.7,472.7 L589.2,472.4 L591.7,472.2 L594.2,472.0 L596.7,471.7 L599.2,471.5 L601.7,471.3 L604.2,471.1 L606.7,470.9 L609.2,470.7 L611.7,470.5 L614.2,470.3 L616.7,470.2 L619.2,470.0 L621.7,469.8 L624.2,469.6 L626.7,469.5 L629.2,469.3 L631.7,469.1 L634.2,469.0 L636.7,468.8 L639.2,468.6 L641.7,468.5 L644.2,468.3 L646.7,468.2 L649.2,468.0 L651.7,467.9 L654.2,467.8 L656.7,467.6 L659.2,467.5 L661.7,467.4 L664.2,467.2 L666.7,467.1 L669.2,467.0 L671.7,466.8 L674.2,466.7 L676.7,466.6 L679.2,466.5 L681.7,466.3 L684.2,466.2 L686.7,466.1 L689.2,466.0 L691.7,465.9 L694.2,465.8 L696.7,465.7 L699.2,465.5 L701.7,465.4 L704.2,465.3 L706.7,465.2 L709.2,465.1 L711.7,465.0 L714.2,464.9 L716.7,464.9 L719.2,464.8 L721.7,464.7 L724.2,464.6 L726.7,464.5 L729.2,464.4 L731.7,464.3 L734.2,464.3 L736.7,464.2 L739.2,464.1 L741.7,464.1 L744.2,464.0 L746.7,463.9 L749.2,463.9 L751.7,463.8 L754.2,463.8 L756.7,463.7 L759.2,463.7 L761.7,463.7 L764.2,463.6 L766.7,463.6 L769.2,463.6 L771.7,463.5 L774.2,463.5 L776.7,463.5 L779.2,463.5 L781.7,463.5 L784.2,463.5 L786.7,463.5 L789.2,463.5 L791.7,463.6 L794.2,463.6 L796.7,463.6 L799.2,463.7 L801.7,463.7 L804.2,463.8 L806.7,463.8 L809.2,463.9 L811.7,464.0 L814.2,464.1 L816.7,464.2 L819.2,464.3 L821.7,464.4 L824.2,464.5 L826.7,464.6 L829.2,464.8 L831.7,464.9 L834.2,465.1 L836.7,465.2 L839.2,465.4 L841.7,465.6 L844.2,465.8 L846.7,466.0 L849.2,466.2 L851.7,466.4 L854.2,466.7 L856.7,466.9 L859.2,467.2 L861.7,467.5 L864.2,467.8 L866.7,468.0 L869.2,468.4 L871.7,468.7 L874.2,469.0 L876.7,469.3 L879.2,469.7 L881.7,470.1 L884.2,470.5 L886.7,470.8 L889.2,471.3 L891.7,471.7 L894.2,472.1 L896.7,472.6 L899.2,473.0 L901.7,473.5 L904.2,474.0 L906.7,474.5 L909.2,475.0 L911.7,475.5 L914.2,476.1 L916.7,476.6 L919.2,477.2 L921.7,477.8 L924.2,478.4 L926.7,479.0 L929.2,479.6 L931.7,480.3 L934.2,480.9 L936.7,481.6 L939.2,482.3 L941.7,483.0 L944.2,483.7 L946.7,484.4 L949.2,485.1 L951.7,485.9 L954.2,486.7 L956.7,487.4 L959.2,488.2 L961.7,489.0 L964.2,489.8 L966.7,490.6 L969.2,491.5 L971.7,492.3 L974.2,493.2 L976.7,494.1 L979.2,494.9 L981.7,495.8 L984.2,496.7 L986.7,497.6 L989.2,498.5 L991.7,499.5 L994.2,500.4 L996.7,501.3 L999.2,502.3 L1001.7,503.2 L1004.2,504.2 L1006.7,505.1 L1009.2,506.1 L1011.7,507.1 L1014.2,508.1 L1016.7,509.0 L1019.2,510.0 L1021.7,511.0 L1024.2,512.0 L1026.7,512.9 L1029.2,513.9 L1031.7,514.9 L1034.2,515.9 L1036.7,516.8 L1039.2,517.8 L1041.7,518.7 L1044.2,519.7 L1046.7,520.6 L1049.2,521.6 L1051.7,522.5 L1054.2,523.4 L1056.7,524.3 L1059.2,525.2 L1061.7,526.0 L1064.2,526.9 L1066.7,527.7 L1069.2,528.5 L1071.7,529.3 L1074.2,530.1 L1076.7,530.8 L1079.2,531.5 L1081.7,532.2 L1084.2,532.9 L1086.7,533.5 L1089.2,534.1 L1091.7,534.7 L1094.2,535.2 L1096.7,535.7 L1099.2,536.1 L1101.7,536.5 L1104.2,536.9 L1106.7,537.2 L1109.2,537.5 L1111.7,537.7 L1114.2,537.9 L1116.7,538.0 L1119.2,538.0 L1121.7,538.0 L1124.2,538.0 L1126.7,537.8 L1129.2,537.6 L1131.7,537.4 L1134.2,537.0 L1136.7,536.6 L1139.2,536.2 L1141.7,535.6 L1144.2,534.9 L1146.7,534.2 L1149.2,533.4 L1151.7,532.5 L1154.2,531.5 L1156.7,530.3 L1159.2,529.1 L1161.7,527.8 L1164.2,526.4 L1166.7,524.9 L1169.2,523.2 L1171.7,521.4 L1174.2,519.6 L1176.7,517.5 L1179.2,515.4 L1181.7,513.1 L1184.2,510.7 L1186.7,508.1 L1189.2,505.4 L1191.7,502.6 L1194.2,499.6 L1196.7,496.4 L1199.2,493.1 L1201.7,489.6 L1204.2,486.0 L1206.7,482.1 L1209.2,478.1 L1211.7,473.9 L1214.2,469.5 L1216.7,464.9 L1219.2,460.1 L1221.7,455.1 L1224.2,449.9 L1226.7,444.5 L1229.2,438.9 L1230.3,436.3" fill="none" stroke="#A3490E" stroke-width="2.7" stroke-linejoin="round" stroke-linecap="round"/>
<ellipse cx="634" cy="636.6" rx="333" ry="62.6" fill="none" stroke="#7a7a7a" stroke-width="3.2" stroke-dasharray="3.4 3.2"/>
<g fill="#C0504D" stroke="#000" stroke-width="2.7">
<circle cx="341.3" cy="642.1" r="10"/>
<circle cx="491.4" cy="679.2" r="10"/>
<circle cx="553.0" cy="628.7" r="10"/>
<circle cx="618.4" cy="656.4" r="10"/>
<circle cx="624.2" cy="642.1" r="10"/>
<circle cx="658.2" cy="642.1" r="10"/>
<circle cx="693.6" cy="642.1" r="10"/>
<circle cx="725.0" cy="669.6" r="10"/>
<circle cx="755.0" cy="642.1" r="10"/>
<circle cx="790.4" cy="642.1" r="10"/>
<circle cx="824.5" cy="642.1" r="10"/>
<circle cx="860.2" cy="615.1" r="10"/>
<circle cx="895.5" cy="615.1" r="10"/>
</g>
<g fill="#C0504D" font-size="20.5" font-weight="bold" text-anchor="middle">
<text x="366.4" y="650.7">8</text>
<text x="517.8" y="687.4">5</text>
<text x="578.4" y="637.0">9</text>
<text x="635.0" y="682.3">7</text>
<text x="636.7" y="631.1">8</text>
<text x="672.2" y="631.1">8</text>
<text x="707.4" y="627.0">8</text>
<text x="750.1" y="677.3">6</text>
<text x="762.0" y="628.2">8</text>
<text x="799.1" y="631.1">8</text>
<text x="836.6" y="632.6">8</text>
<text x="870.4" y="643.9">10</text>
<text x="912.8" y="638.7">10</text>
</g>
<circle cx="1170.8" cy="569.5" r="6.8" fill="#8AA64B"/>
<text x="1183.6" y="577.1" font-size="24" fill="#111" textLength="49.5" lengthAdjust="spacingAndGlyphs">2002</text>
<circle cx="1170.8" cy="606.5" r="6.8" fill="#725A96"/>
<text x="1183.6" y="614.1" font-size="24" fill="#111" textLength="49.5" lengthAdjust="spacingAndGlyphs">2006</text>
<circle cx="1170.8" cy="643.1" r="6.8" fill="#4399B2"/>
<text x="1183.6" y="650.2" font-size="24" fill="#111" textLength="49.5" lengthAdjust="spacingAndGlyphs">2010</text>
<circle cx="1170.8" cy="679.6" r="6.8" fill="#DC833D"/>
<text x="1183.6" y="686.6" font-size="24" fill="#111" textLength="49.5" lengthAdjust="spacingAndGlyphs">2014</text>
<circle cx="1171.9" cy="716.5" r="6.2" fill="#C0504D" stroke="#000" stroke-width="3"/>
<text x="1184" y="723.3" font-size="24" font-weight="bold" fill="#000" stroke="#000" stroke-width="0.7" textLength="52.5" lengthAdjust="spacingAndGlyphs">2018</text>
<g id="photo">
<defs>
<linearGradient id="suitg" x1="0" y1="0" x2="1" y2="1"><stop offset="0" stop-color="#262b3f"/><stop offset="1" stop-color="#171a28"/></linearGradient>
<radialGradient id="faceg" cx="0.5" cy="0.3" r="0.7"><stop offset="0" stop-color="#eab59c"/><stop offset="0.55" stop-color="#d9987c"/><stop offset="1" stop-color="#b5735c"/></radialGradient>
<filter id="soft" x="-5%" y="-5%" width="110%" height="110%"><feGaussianBlur stdDeviation="0.45"/></filter>
</defs>
<g filter="url(#soft)">
<!-- suit body -->
<path d="M994,652 C1005,648 1025,645 1040,642 L1047,638.5 L1092,648 C1106,652 1120,659 1130,666 C1136,671 1138,680 1139,695 L1140.5,748 L999,748 L998,715 C990,716 983,720 975,721 C962,721 952,716 947,710 C943,704 944,696 948,690 C955,681 965,677 975,673 C982,668 988,660 994,652 Z" fill="url(#suitg)"/>
<!-- suit highlights -->
<path d="M996,656 C1008,650 1026,647 1040,645 C1036,652 1030,657 1022,660 C1012,662 1004,666 998,672 Z" fill="#323a52" opacity="0.75"/>
<path d="M1100,656 C1112,661 1124,667 1131,675 L1134,705 C1128,692 1116,680 1102,672 Z" fill="#2e364e" opacity="0.8"/>
<path d="M952,690 C962,682 974,678 986,676 L990,690 C978,694 964,700 952,706 Z" fill="#2a3147" opacity="0.7"/>
<path d="M1086,690 C1095,700 1110,710 1120,725 L1118,745 C1110,730 1098,715 1088,705 Z" fill="#283046" opacity="0.6"/>
<!-- sleeve buttons -->
<g fill="#9aa0b0" opacity="0.7"><circle cx="972" cy="693.5" r="0.8"/><circle cx="975" cy="692.8" r="0.8"/><circle cx="978" cy="692.2" r="0.8"/><circle cx="981" cy="691.6" r="0.8"/></g>
<!-- shirt -->
<path d="M1045.5,640.5 C1049,646 1054,651 1060,655 C1066,659 1074,661 1082,657 C1086,654 1089,651 1092,648.5 L1093,651 L1088,668 L1083,690 L1079,712 L1076.5,748 L1064,748 L1058,712 L1052,680 L1048,658 Z" fill="#e2e8d4"/>
<path d="M1058,668 L1073,672 L1078,700 L1075,748 L1065,748 L1060,705 Z" fill="#f5f7f0"/>
<path d="M1082,664 L1090,652 L1086,678 L1081,692 Z" fill="#d3d9c2"/>
<path d="M1041,643 C1047,670 1055,705 1064,748" stroke="#11141f" stroke-width="1.5" fill="none"/>
<path d="M1093,650 C1088,668 1084,686 1082,700 C1080,718 1078,734 1076.5,748" stroke="#151827" stroke-width="1.2" fill="none"/>
<!-- neck -->

<!-- head -->
<path d="M1078,584 C1086,584.5 1092,587 1096,591 C1101,596 1104,603 1105.2,610.3 C1105.5,615 1105,619 1104,621.5 C1105.5,624 1104.5,632 1100.2,638 C1097,643 1094.6,644.5 1092,648 C1089,652 1086,655 1082,657.5 C1078,660.5 1072,661.5 1066,659.5 C1060,656 1056,652 1054,648.2 C1052,643 1050,636 1048.9,631.5 C1047.3,626 1047,619 1047.5,613 C1048,606 1050,598 1055.8,590.9 C1061,586 1070,584 1078,584 Z" fill="url(#faceg)"/>
<ellipse cx="1077" cy="601" rx="17" ry="12" fill="#eebba3" opacity="0.6"/>
<ellipse cx="1078" cy="587.5" rx="7" ry="2.5" fill="#f2ddd0" opacity="0.8"/>
<!-- hair sides -->
<path d="M1057,589.5 C1052,595 1049.2,603 1048.6,612 C1048.4,617 1049,622 1050,625 L1053,622 C1052.5,614 1053.5,604 1057,597 C1058.5,594 1060,591 1061,589 Z" fill="#9a948e"/>
<path d="M1095,591 C1100,596 1103.5,603 1105,611 C1105.5,615 1105,619 1104,621.5 L1101,621 C1101,612 1099,603 1094,596 Z" fill="#8a8480"/>
<!-- ear right -->
<path d="M1100.5,622 C1103,621 1105,623 1104.5,628 C1104,633 1102,637 1099.5,638 Z" fill="#c98a70"/>
<!-- face shading -->
<path d="M1049.5,628 C1051,638 1055,648 1063,656 L1065,651 C1059,645 1055.5,637 1053.5,628 Z" fill="#b57560" opacity="0.6"/>
<path d="M1096,628 C1096,638 1092,647 1086,653 L1084,647 C1088,641 1091,636 1092,628 Z" fill="#b57560" opacity="0.6"/>
<!-- eyes -->
<ellipse cx="1063" cy="625.5" rx="4" ry="2" fill="#6b4436" opacity="0.8"/>
<ellipse cx="1087" cy="627.5" rx="4" ry="2" fill="#6b4436" opacity="0.8"/>
<path d="M1055,619.5 C1060,617.5 1066,617.5 1071,619 M1079,621 C1084,620 1090,620.5 1095,622" stroke="#7a5040" stroke-width="1.4" fill="none" opacity="0.8"/>
<!-- glasses -->
<g stroke="#4e3329" stroke-width="1.2" fill="none" opacity="0.9">
<path d="M1051.5,619.5 C1058,618 1066,618 1073,620 C1073.5,625 1071.5,630 1066,630.8 C1060,631.5 1054,630 1052.5,626.5 Z"/>
<path d="M1078,622 C1084,621 1091,621.5 1096.5,623.5 C1096.5,628.5 1094.5,633 1089,633.5 C1083,634 1079.5,631.5 1078.5,628 Z"/>
<path d="M1073,621 L1078,622.5 M1096.5,623.5 L1103.5,620.5"/>
</g>
<!-- nose -->
<path d="M1071,628 C1070,633 1068,637 1069,640 C1071,641.5 1075,641 1077,639.5" stroke="#9b5e48" stroke-width="1.3" fill="none"/>
<path d="M1072,630 C1074,634 1076,636 1076,639" stroke="#e8b8a0" stroke-width="1.2" fill="none" opacity="0.7"/>
<!-- mouth -->
<path d="M1059.5,644 C1066,641.8 1073,642.2 1078.5,645.5 C1074,650.5 1065,651 1060.5,647.5 Z" fill="#b0685c"/>
<path d="M1061.5,645 C1067,643.6 1072,644 1076.5,646 C1072,648.5 1066,648.5 1062,646.5 Z" fill="#7a3a34"/>
<!-- cuff -->
<path d="M991.7,679.2 L1004,669.4 L1009,681.7 L1009,690.3 L997.8,694 L991.7,692.8 Z" fill="#e2e3d6"/>
<!-- hand -->
<path d="M1004,669.4 C1007,662 1012,657 1020,654 C1030,651.5 1042,653 1052,657 C1057.5,659 1058,663.5 1054,664.5 C1046,666 1036,667 1028,671 C1022,676 1016,682 1010,684.5 L1006,684 Z" fill="#c98a6c"/>
<path d="M1018,656.5 C1030,654 1041,655 1051,658.5" stroke="#e4ad90" stroke-width="1.6" fill="none" opacity="0.8"/>
<path d="M1012,672 C1018,670 1024,669 1030,668.5" stroke="#a86a52" stroke-width="1" fill="none" opacity="0.7"/>
<!-- mic -->
<path d="M1076.9,675.5 C1090,695 1115,712 1134,724 C1138,730 1138,738 1137.5,748" stroke="#1e1e1e" stroke-width="1.6" fill="none"/>
<ellipse cx="1074.5" cy="665.7" rx="7.2" ry="9.6" fill="#3d3d39"/>
<!-- background strip right -->
<rect x="1141" y="728" width="3.5" height="20" fill="#d9dccf" opacity="0.8"/>
</g>
<!-- PSDB logo -->
<text x="1013.8" y="729.6" font-size="37.5" font-weight="bold" font-style="italic" fill="#0c2370" stroke="#0c2370" stroke-width="2.6" stroke-linejoin="round" textLength="93.5" lengthAdjust="spacingAndGlyphs" opacity="0.9">PSDB</text>
<text x="1013" y="728.8" font-size="37.5" font-weight="bold" font-style="italic" fill="url(#psdbg)" stroke="url(#psdbg)" stroke-width="2.2" stroke-linejoin="round" textLength="93.5" lengthAdjust="spacingAndGlyphs">PSDB</text>
<text x="1013.5" y="737.8" font-size="9" font-weight="bold" font-style="italic" fill="#2a4ad0" stroke="#2a4ad0" stroke-width="0.9" stroke-linejoin="round" textLength="97.5" lengthAdjust="spacingAndGlyphs">SOCIAL DEMOCRACIA</text>
<!-- toucan -->
<path d="M1104,716 C1108,714 1113,715 1116,719 L1116,728 C1112,729 1107,724 1104,716 Z" fill="#2c7fe0"/>
<path d="M1113,722 C1114,716 1118,713 1122,713 C1128,713 1133,715 1135,719 C1129,718 1124,719 1121,722 C1121,727 1119,731 1115,731 C1113,729 1112,726 1113,722 Z" fill="#f3d62a"/>
<path d="M1122,714 L1135,718.5 L1133,721 L1122,719 Z" fill="#f0b62a"/>
<circle cx="1117.6" cy="717.5" r="1.5" fill="#fff" stroke="#2a55c0" stroke-width="0.6"/>
<path d="M1120,711 L1124,709 L1123,714 Z" fill="#2c7fe0"/>
<path d="M1115,731 L1114,734 M1117,731 L1116.5,734" stroke="#f0c02a" stroke-width="1"/>
</g>

<text x="64.5" y="845.3" font-size="14.5" font-style="italic" fill="#222" textLength="531" lengthAdjust="spacingAndGlyphs">Sources: Polling Data, Datafolha, IBOPE, Ipespe (XP Investiments), BNP Paribas</text>
<g stroke="#06773F" stroke-width="4.8" stroke-linecap="round" stroke-linejoin="round" fill="none">
<line x1="1209.5" y1="845.1" x2="1239.3" y2="845.1"/><line x1="1209.5" y1="854.9" x2="1239.3" y2="854.9"/><line x1="1209.5" y1="864.8" x2="1239.3" y2="864.8"/>
<g stroke-width="5.4"><line x1="1253" y1="855.1" x2="1280.4" y2="855.1"/><polyline points="1262.4,845.4 1252.6,855.1 1262.4,864.8"/>
<line x1="1294.6" y1="855.1" x2="1322.6" y2="855.1"/><polyline points="1312.6,845.4 1322.4,855.1 1312.6,864.8"/></g>
</g>
<rect x="49" y="874.3" width="1281" height="1.8" fill="#111"/>
<rect x="77.9" y="897.1" width="53" height="54" fill="url(#bnpg)"/>
<g fill="#fff" stroke="#fff" stroke-width="0.5" stroke-linejoin="round">
<path d="M108.8,903.2 L118.0,906.6 L124.9,907.1 L120.3,910.9 L121.4,920.7 L116.1,912.2 L105.2,911.8 L114.7,908.9Z"/>
<path d="M87.4,917.2 L95.1,916.2 L99.8,914.0 L98.4,917.6 L107.1,919.7 L97.7,920.6 L95.6,926.1 L94.9,920.9 L87.0,926.4 L93.5,919.3Z"/>
<path d="M83.5,936.9 L86.8,935.9 L86.4,929.9 L90.4,935.8 L95.0,940.7 L90.0,939.1 L90.2,943.2 L87.1,939.1Z"/>
<path d="M104.5,938.6 L104.7,939.8 L109.6,937.5 L104.6,942.7 L99.4,944.5 L101.9,941.9 L98.5,941.6 L102.5,939.8Z"/>
</g>

<text x="144.5" y="933.5" font-size="26" fill="#231F20" stroke="#231F20" stroke-width="0.8" textLength="190" lengthAdjust="spacingAndGlyphs">BNP PARIBAS</text>
<text x="563.2" y="928.8" font-size="19.5" fill="#231F20" stroke="#231F20" stroke-width="0.35" textLength="253" lengthAdjust="spacingAndGlyphs">The bank for a changing world</text>
<text x="1148.3" y="928.9" font-size="16.5" fill="#111" stroke="#111" stroke-width="0.3" textLength="123.4" lengthAdjust="spacingAndGlyphs">August 6, 2018 |</text>
<text x="1300.9" y="928.9" font-size="16.5" fill="#111">6</text>
<polygon points="1162.8,0 1261.2,0 1380,118.8 1380,219.2" fill="#000"/>
<text transform="translate(1294.6,86.4) rotate(45) scale(0.82,1)" x="1.5" y="14.5" font-size="42" font-weight="bold" letter-spacing="2.4" fill="#F4F58C" stroke="#F4F58C" stroke-width="3" stroke-linejoin="round" text-anchor="middle">UPDATE</text>
<rect x="0" y="0" width="1" height="975" fill="#fbfbfb"/>
<rect x="0" y="0" width="1380" height="2.2" fill="#c8c8c8"/>
<rect x="1378.9" y="0" width="1.1" height="975" fill="#cccccc"/>
<rect x="0" y="973.5" width="1380" height="1.5" fill="#c8c8c8"/>
</svg></body></html>
